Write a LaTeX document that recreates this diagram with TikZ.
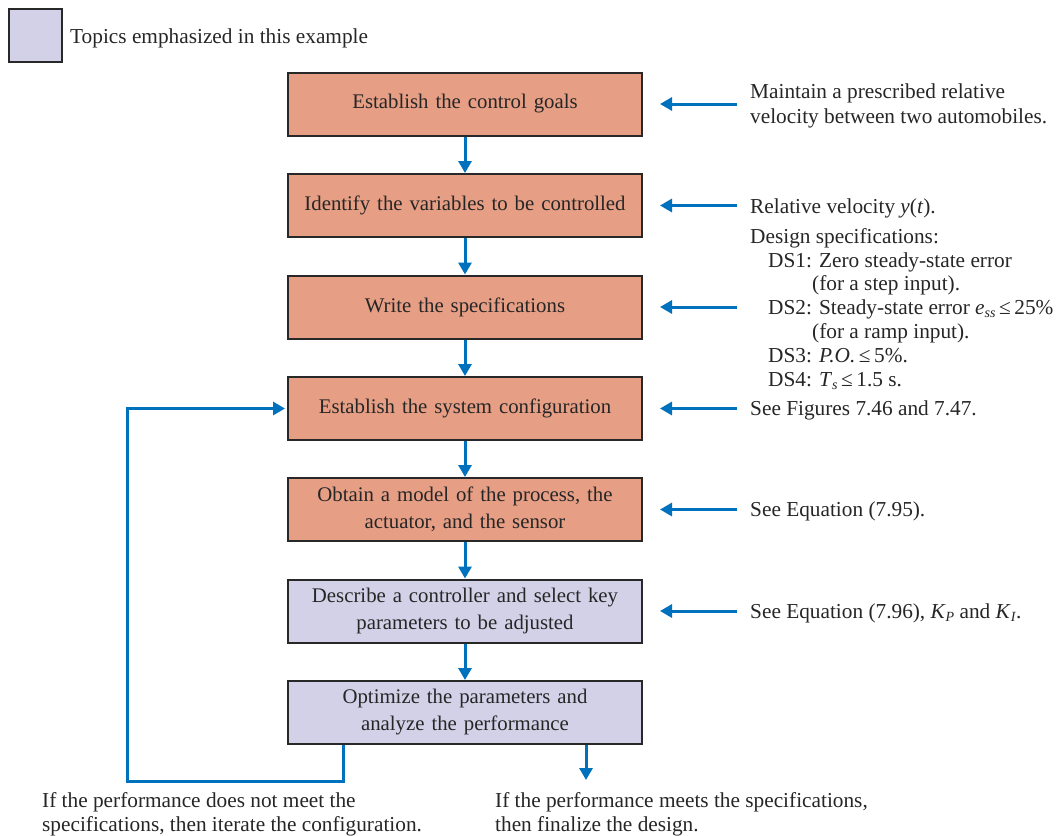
\documentclass[tikz,border=0pt]{standalone}
\usepackage{fontspec}
\setmainfont{Liberation Serif}
\usetikzlibrary{arrows.meta}
\definecolor{salmon}{RGB}{230,158,133}
\definecolor{lav}{RGB}{211,209,232}
\definecolor{edge}{RGB}{40,40,40}
\definecolor{flow}{RGB}{0,113,188}
\newcommand{\mysub}[1]{\raisebox{-0.35ex}{\fontsize{14}{14}\selectfont\textit{#1}}}
\begin{document}
\begin{tikzpicture}[x=1pt,y=-1pt,
  txt/.style={font=\fontsize{21.3}{25}\selectfont, inner sep=0pt},
  stepbox/.style={draw=edge, line width=2pt, minimum width=354pt, minimum height=63pt,
    inner sep=0pt, align=center, text width=340pt, text=black!85,
    font=\fontsize{20.8}{27}\selectfont},
  goal/.style={stepbox, fill=salmon},
  emph/.style={stepbox, fill=lav},
  lbl/.style={txt, anchor=base west, text=black!85},
  arr/.style={draw=flow, line width=3pt, -{Triangle[length=12pt,width=13pt]}}
]
\useasboundingbox (0,0) rectangle (1062,835);

% legend
\node[draw=edge, line width=2pt, fill=lav, minimum size=53pt, inner sep=0pt] (leg) at (35,35) {};
\node[lbl] (legt) at (70,43) {Topics emphasized in this example};

% steps
\node[goal] (b1) at (465,104) {Establish the control goals};
\node[goal] (b2) at (465,205.5) {Identify the variables to be controlled};
\node[goal] (b3) at (465,307) {Write the specifications};
\node[goal] (b4) at (465,408.5) {Establish the system configuration};
\node[goal] (b5) at (465,509.5) {Obtain a model of the process, the\\actuator, and the sensor};
\node[emph] (b6) at (465,611) {Describe a controller and select key\\parameters to be adjusted};
\node[emph] (b7) at (465,712.5) {Optimize the parameters and\\analyze the performance};

\foreach \a/\b in {b1/b2,b2/b3,b3/b4,b4/b5,b5/b6,b6/b7}
  \draw[arr] (\a) -- (\b);

% right-hand inputs
\foreach \b in {b1,b2,b3,b4,b5,b6}{
  \coordinate (r\b) at ([xshift=94pt]\b.east);
  \draw[arr] (r\b) -- ([xshift=17pt]\b.east);
}

% right-hand texts
\node[lbl] (t1a) at (750,98) {Maintain a prescribed relative};
\node[lbl] (t1b) at (750,123) {velocity between two automobiles.};
\node[lbl] (t2) at (750,213) {Relative velocity \textit{y}(\textit{t}).};
\node[lbl] (t3) at (750,243) {Design specifications:};
\node[lbl] (t4) at (768,267) {DS1: Zero steady-state error};
\node[lbl] (t5) at (812,290) {(for a step input).};
\node[lbl] (t6) at (768,314) {DS2: Steady-state error \textit{e}\mysub{ss}\,≤\,25\%};
\node[lbl] (t7) at (812,338) {(for a ramp input).};
\node[lbl] (t8) at (768,362) {DS3: \textit{P.O.}\,≤\,5\%.};
\node[lbl] (t9) at (768,386) {DS4: \textit{T}\mysub{s}\,≤\,1.5 s.};
\node[lbl] (t10) at (750,415) {See Figures 7.46 and 7.47.};
\node[lbl] (t11) at (750,516) {See Equation (7.95).};
\node[lbl] (t12) at (750,618) {See Equation (7.96), \textit{K}\mysub{P} and \textit{K}\mysub{I}.};

% feedback loop and exit
\coordinate (lc) at (127,781);
\coordinate (ex) at (586,780);
\draw[arr] ([xshift=-122pt]b7.south) |- (lc) |- ([xshift=-2pt]b4.west);
\draw[arr] ([xshift=121pt]b7.south) -- (ex);

% bottom texts
\node[lbl] (f1a) at (42,807) {If the performance does not meet the};
\node[lbl] (f1b) at (42,831) {specifications, then iterate the configuration.};
\node[lbl] (f2a) at (495,807) {If the performance meets the specifications,};
\node[lbl] (f2b) at (495,831) {then finalize the design.};
\end{tikzpicture}
\end{document}
